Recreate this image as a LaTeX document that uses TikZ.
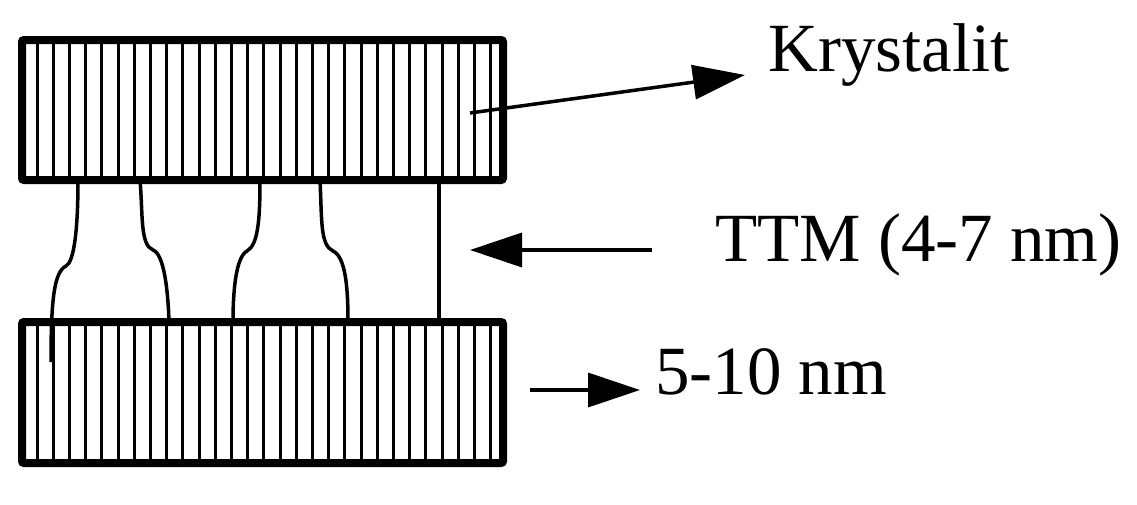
\documentclass[tikz,border=0pt]{standalone}
\usepackage{fontspec}
\setmainfont{Liberation Serif}
\usetikzlibrary{arrows.meta}
\begin{document}
\begin{tikzpicture}[x=1pt,y=-1pt,
  frame/.style={line width=8pt,rounded corners=2pt},
  hatch/.style={line width=3pt},
  fiber/.style={line width=3.5pt},
  arr/.style={line width=3.5pt,-{Triangle[length=52pt,width=34pt]}},
  lbl/.style={font=\fontsize{69}{75}\selectfont,inner sep=0pt}]
\useasboundingbox (0,0) rectangle (1137,504);
\foreach \x in {37,53.2,...,498} {
  \draw[hatch] (\x,40) -- (\x,180);
  \draw[hatch] (\x,322) -- (\x,463);
}
\draw[frame] (22,40) rectangle (503,180);
\draw[frame] (22,322) rectangle (503,463);
\coordinate (t1) at (78,180); \coordinate (b1) at (51,362);
\draw[fiber] (t1) .. controls (78,230) and (74,262) .. (66,266) .. controls (54,272) and (51,300) .. (b1);
\draw[fiber] (140,180) .. controls (143,215) and (140,245) .. (153,250) .. controls (164,254) and (168,290) .. (169,322);
\draw[fiber] (260,180) .. controls (260,220) and (258,245) .. (247,251) .. controls (236,257) and (233,290) .. (233,322);
\draw[fiber] (320,180) .. controls (322,220) and (320,245) .. (333,251) .. controls (346,257) and (348,290) .. (348,322);
\draw[fiber] (439,180) -- (439,322);
\node[lbl,anchor=west] (kr) at (768,55) {Krystalit};
\node[lbl,anchor=west] (ttm) at (715,245) {TTM (4-7 nm)};
\node[lbl,anchor=west] (nm) at (655,372) {5-10 nm};
\coordinate (k0) at (470,113); \coordinate (k1) at (745,75);
\draw[arr] (k0) -- (k1);
\coordinate (m0) at (652,250); \coordinate (m1) at (470,250);
\draw[arr] (m0) -- (m1);
\coordinate (n0) at (530,390); \coordinate (n1) at (640,390);
\draw[arr] (n0) -- (n1);
\end{tikzpicture}
\end{document}
